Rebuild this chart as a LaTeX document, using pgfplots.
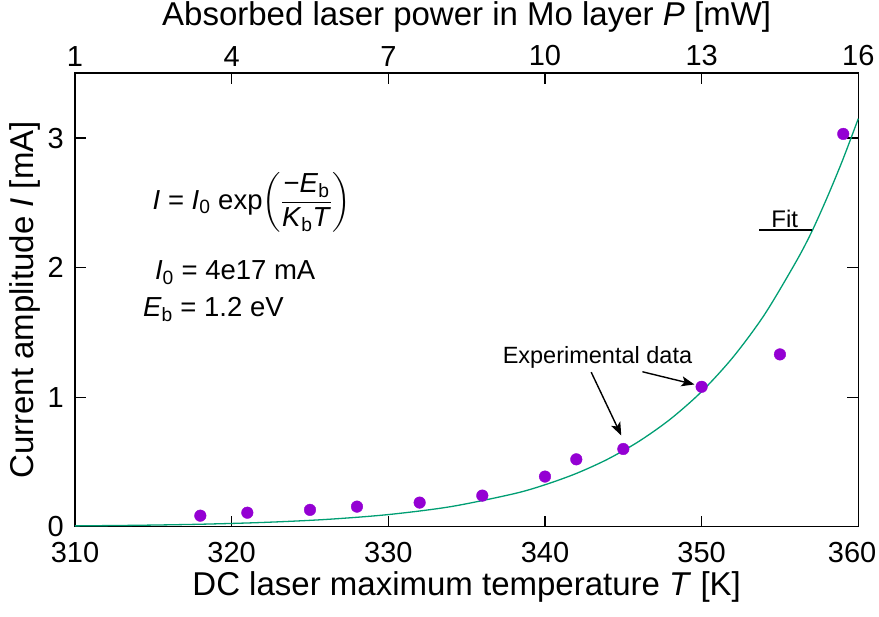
\documentclass[border=0pt]{standalone}
\usepackage{pgfplots}
\pgfplotsset{compat=1.18}
\usepackage{amsmath}
\usepackage{fontspec}
\setmainfont{Liberation Sans}
\usetikzlibrary{arrows.meta}
\definecolor{dpurple}{HTML}{9400D3}
\definecolor{fitgreen}{HTML}{009E73}
\hbadness=10000 \hfuzz=100pt
\begin{document}
\begin{tikzpicture}
\begin{axis}[
  scale only axis, width=783.3pt, height=453.4pt,
  xmin=310, xmax=360, ymin=0, ymax=3.5,
  xtick={310,320,...,360}, ytick={0,1,2,3},
  xtick pos=bottom, ytick pos=both, yticklabel pos=left,
  tick align=inside, major tick length=11pt,
  every tick/.style={black, line width=1.2pt},
  axis line style={line width=1.6pt},
  tick label style={font=\fontsize{29}{33}\selectfont},
  xticklabel style={inner sep=0pt, yshift=-15pt},
  yticklabel style={inner sep=0pt, xshift=-11pt},
  xticklabel={\ifdim\tick pt>355pt\hbox to 36pt{\hss\pgfmathprintnumber{\tick}}\else\pgfmathprintnumber{\tick}\fi},
  /pgf/number format/assume math mode=true,
  xlabel={DC laser maximum temperature \textit{T} [K]},
  ylabel={Current amplitude \textit{I} [mA]},
  label style={font=\fontsize{33}{38}\selectfont},
  xlabel style={at={(axis description cs:0.5,-0.1330)}, anchor=center},
  ylabel style={at={(axis description cs:-0.0638,0.5)}, anchor=center},
  clip=false,
]
\addplot[fitgreen, line width=1.3pt, smooth] coordinates {
(310,0.0062) (314,0.0109) (318,0.0190) (322,0.0328) (326,0.0558)
(330,0.0936) (334,0.1551) (338,0.254) (340,0.3236) (342,0.411)
(344,0.521) (346,0.659) (348,0.830) (350,1.043) (352,1.308)
(354,1.635) (356,2.040) (357,2.27) (358,2.538) (359,2.83) (360,3.15)
};
\addplot[only marks, mark=*, mark size=5.8pt, dpurple, mark options={draw=dpurple, fill=dpurple}] coordinates {
(318,0.085) (321,0.108) (325,0.13) (328,0.155) (332,0.186) (336,0.24)
(340,0.387) (342,0.52) (345,0.60) (350,1.08) (355,1.33) (359.04,3.032)
};
\draw[-{Stealth[length=13pt,width=10pt,inset=3pt]}, line width=1.4pt] (axis cs:342.95,1.193) -- (axis cs:344.87,0.704);
\draw[-{Stealth[length=13pt,width=10pt,inset=3pt]}, line width=1.4pt] (axis cs:346.22,1.196) -- (axis cs:349.54,1.098);
\node[font=\fontsize{23.5}{28}\selectfont, anchor=center] at (axis cs:343.35,1.307) {Experimental data};
\draw[line width=1.5pt] (axis cs:353.69,2.289) -- (axis cs:357.07,2.289);
\node[font=\fontsize{24}{28}\selectfont, anchor=south, inner sep=2pt] at (axis cs:355.3,2.289) {Fit};
\node[font=\fontsize{27.5}{32}\selectfont, anchor=west, inner sep=0pt] at (axis cs:314.95,2.50)
 {\textit{I} = \textit{I}\textsubscript{0} exp$\left(\dfrac{\text{−\textit{E}\textsubscript{b}}}{\text{\textit{K}\textsubscript{b}\textit{T}}}\right)$};
\node[font=\fontsize{27.5}{32}\selectfont, anchor=west, inner sep=0pt] at (axis cs:315.1,1.96) {\textit{I}\textsubscript{0} = 4e17 mA};
\node[font=\fontsize{27.5}{32}\selectfont, anchor=west, inner sep=0pt] at (axis cs:314.33,1.675) {\textit{E}\textsubscript{b} = 1.2 eV};
\end{axis}
\begin{axis}[
  scale only axis, width=783.3pt, height=453.4pt,
  xmin=1, xmax=16, ymin=0, ymax=3.5,
  axis x line*=top, axis y line=none,
  xtick={1,4,...,16}, ytick=\empty,
  tick align=inside, major tick length=11pt,
  every tick/.style={black, line width=1.2pt},
  axis line style={line width=1.6pt},
  tick label style={font=\fontsize{29}{33}\selectfont},
  xticklabel style={inner sep=0pt, yshift=7pt},
  /pgf/number format/assume math mode=true,
  xlabel={Absorbed laser power in Mo layer \textit{P} [mW]},
  label style={font=\fontsize{33}{38}\selectfont},
  xlabel style={at={(axis description cs:0.5,1.124)}, anchor=center},
]
\addplot[draw=none] coordinates {(1,0) (16,0)};
\end{axis}
\pgfresetboundingbox
\path (-75pt,-90.3pt) rectangle (804pt,526.7pt);
\end{tikzpicture}
\end{document}
